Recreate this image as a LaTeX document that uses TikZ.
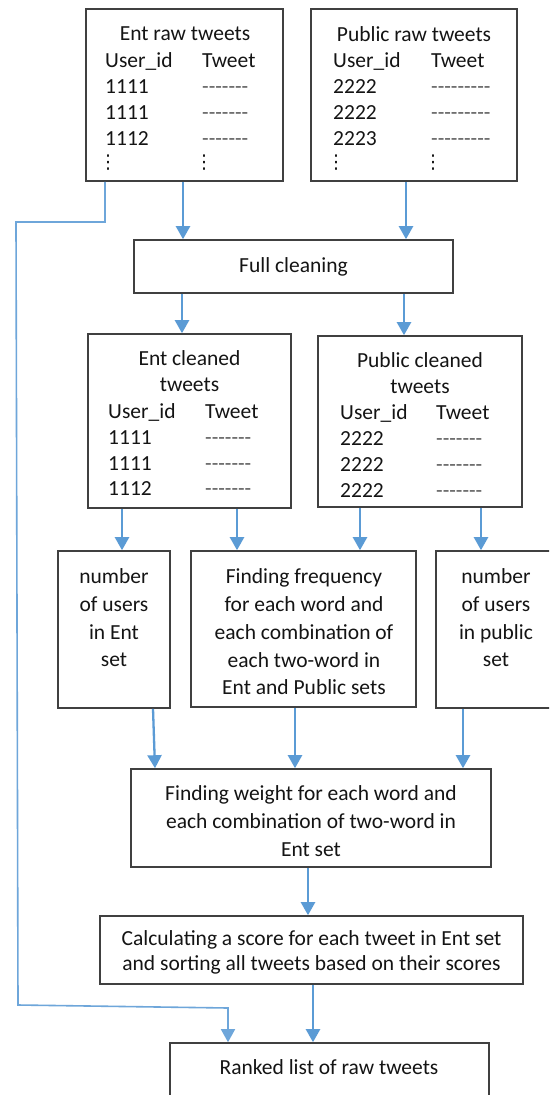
\documentclass[tikz,border=0pt]{standalone}
\usepackage{fontspec}
\setmainfont{Carlito}
\newfontfamily\dejavu{DejaVu Sans}
\usetikzlibrary{arrows.meta}
\definecolor{arrblue}{HTML}{5B9BD5}
\definecolor{loopblue}{HTML}{6EA6DA}
\definecolor{boxgray}{HTML}{404040}
\newcommand{\dsh}[1]{\foreach \i in {1,...,#1}{-{}}}
\newcommand{\vd}{{\dejavu\fontsize{19}{19}\selectfont ⋮}}
\begin{document}
\begin{tikzpicture}[x=1pt,y=1pt,
  box/.style={draw=boxgray, line width=1.6pt, inner sep=0pt, fill=white},
  txt/.style={inner sep=0pt, font=\fontsize{21.5}{26}\selectfont, text=black!92},
  mtxt/.style={inner sep=0pt, align=center, font=\fontsize{21.5}{27.7}\selectfont, text=black!92},
  dashtxt/.style={inner sep=0pt, font=\fontsize{21.5}{26}\selectfont, text=black!65},
  arr/.style={draw=arrblue, line width=2.3pt, -{Triangle[width=14pt,length=13pt]}},
  loopline/.style={draw=loopblue, line width=1.6pt, -{Triangle[width=14pt,length=13pt]}}
]
\useasboundingbox (0,0) rectangle (549,-1095);
\clip (0,0) rectangle (549,-1095);
\fill[white] (0,0) rectangle (549,-1095);

% ---------- boxes ----------
\node[box, minimum width=197pt, minimum height=172pt] (entraw) at (184.5,-95) {};
\node[box, minimum width=206pt, minimum height=172pt] (pubraw) at (414,-95) {};
\node[box, minimum width=319pt, minimum height=53pt] (full) at (293.5,-266.5) {};
\node[box, minimum width=203pt, minimum height=174pt] (entclean) at (189.5,-421) {};
\node[box, minimum width=204pt, minimum height=171pt] (pubclean) at (420,-421.5) {};
\node[box, minimum width=112pt, minimum height=157pt] (nument) at (114,-629.5) {};
\node[box, minimum width=225pt, minimum height=156pt] (freq) at (303.5,-629) {};
\node[box, minimum width=120pt, minimum height=157pt] (numpub) at (496,-629.5) {};
\node[box, minimum width=360pt, minimum height=98pt] (weight) at (311,-818) {};
\node[box, minimum width=423pt, minimum height=68pt] (calc) at (311.5,-950) {};
\node[box, minimum width=319pt, minimum height=72pt] (ranked) at (329.5,-1079) {};

% ---------- Ent raw tweets ----------
\node[txt, anchor=base] (erT) at (185,-40) {Ent raw tweets};
\node[txt, anchor=base west] (erU) at (105,-67) {User\_id};
\node[txt, anchor=base west] (erW) at (202,-67) {Tweet};
\node[txt, anchor=base west] (er1) at (105,-93) {1111};
\node[txt, anchor=base west] (er2) at (105,-119) {1111};
\node[txt, anchor=base west] (er3) at (105,-145) {1112};
\node[dashtxt, anchor=base west] (erd1) at (202,-93) {\dsh{7}};
\node[dashtxt, anchor=base west] (erd2) at (202,-119) {\dsh{7}};
\node[dashtxt, anchor=base west] (erd3) at (202,-145) {\dsh{7}};
\node[txt] (erv1) at (108,-163) {\vd};
\node[txt] (erv2) at (204,-163) {\vd};

% ---------- Public raw tweets ----------
\node[txt, anchor=base] (prT) at (414,-41) {Public raw tweets};
\node[txt, anchor=base west] (prU) at (333,-67) {User\_id};
\node[txt, anchor=base west] (prW) at (431,-67) {Tweet};
\node[txt, anchor=base west] (pr1) at (333,-93) {2222};
\node[txt, anchor=base west] (pr2) at (333,-119) {2222};
\node[txt, anchor=base west] (pr3) at (333,-145) {2223};
\node[dashtxt, anchor=base west] (prd1) at (431,-93) {\dsh{9}};
\node[dashtxt, anchor=base west] (prd2) at (431,-119) {\dsh{9}};
\node[dashtxt, anchor=base west] (prd3) at (431,-145) {\dsh{9}};
\node[txt] (prv1) at (336,-163) {\vd};
\node[txt] (prv2) at (433,-163) {\vd};

% ---------- Full cleaning ----------
\node[txt] (fullT) at (293.5,-266.5) {Full cleaning};

% ---------- Ent cleaned tweets ----------
\node[txt, anchor=base] (ecT1) at (189.5,-365) {Ent cleaned};
\node[txt, anchor=base] (ecT2) at (189.5,-391) {tweets};
\node[txt, anchor=base west] (ecU) at (108,-418) {User\_id};
\node[txt, anchor=base west] (ecW) at (205,-418) {Tweet};
\node[txt, anchor=base west] (ec1) at (108,-444) {1111};
\node[txt, anchor=base west] (ec2) at (108,-470) {1111};
\node[txt, anchor=base west] (ec3) at (108,-495) {1112};
\node[dashtxt, anchor=base west] (ecd1) at (205,-444) {\dsh{7}};
\node[dashtxt, anchor=base west] (ecd2) at (205,-470) {\dsh{7}};
\node[dashtxt, anchor=base west] (ecd3) at (205,-495) {\dsh{7}};

% ---------- Public cleaned tweets ----------
\node[txt, anchor=base] (pcT1) at (420,-367) {Public cleaned};
\node[txt, anchor=base] (pcT2) at (420,-393) {tweets};
\node[txt, anchor=base west] (pcU) at (340,-419) {User\_id};
\node[txt, anchor=base west] (pcW) at (436,-419) {Tweet};
\node[txt, anchor=base west] (pc1) at (340,-445) {2222};
\node[txt, anchor=base west] (pc2) at (340,-471) {2222};
\node[txt, anchor=base west] (pc3) at (340,-497) {2222};
\node[dashtxt, anchor=base west] (pcd1) at (436,-445) {\dsh{7}};
\node[dashtxt, anchor=base west] (pcd2) at (436,-471) {\dsh{7}};
\node[dashtxt, anchor=base west] (pcd3) at (436,-497) {\dsh{7}};

% ---------- third row ----------
\node[mtxt] (numentT) at (114,-618) {number\\of users\\in Ent\\set};
\node[mtxt] (freqT) at (304,-632) {Finding frequency\\for each word and\\each combination of\\each two-word in\\Ent and Public sets};
\node[mtxt] (numpubT) at (496,-618) {number\\of users\\in public\\set};

% ---------- lower boxes ----------
\node[mtxt] (weightT) at (311,-821) {Finding weight for each word and\\each combination of two-word in\\Ent set};
\node[mtxt, font=\fontsize{21.5}{25}\selectfont] (calcT) at (311.5,-952.5) {Calculating a score for each tweet in Ent set\\and sorting all tweets based on their scores};
\node[txt] (rankedT) at (329,-1067) {Ranked list of raw tweets};

% ---------- connector x positions ----------
\coordinate (xa) at (183,0);
\coordinate (xb) at (406,0);
\coordinate (xc) at (182,0);
\coordinate (xd) at (404,0);
\coordinate (xe) at (122,0);
\coordinate (xf) at (237,0);
\coordinate (xg) at (360,0);
\coordinate (xh) at (481,0);
\coordinate (xi) at (295,0);
\coordinate (xj) at (463,0);
\coordinate (xk) at (308,0);
\coordinate (xl) at (313,0);
\coordinate (xm) at (228,0);

% ---------- arrows ----------
\draw[arr] (entraw.south -| xa) -- (full.north -| xa);
\draw[arr] (pubraw.south -| xb) -- (full.north -| xb);
\draw[arr] (full.south -| xc) -- (entclean.north -| xc);
\draw[arr] (full.south -| xd) -- (pubclean.north -| xd);
\draw[arr] (entclean.south -| xe) -- (nument.north -| xe);
\draw[arr] (entclean.south -| xf) -- (freq.north -| xf);
\draw[arr] (pubclean.south -| xg) -- (freq.north -| xg);
\draw[arr] (pubclean.south -| xh) -- (numpub.north -| xh);
\coordinate (ns1) at (153,0);
\coordinate (ns2) at (155,0);
\draw[arr] (nument.south -| ns1) -- (weight.north -| ns2);
\draw[arr] (freq.south -| xi) -- (weight.north -| xi);
\draw[arr] (numpub.south -| xj) -- (weight.north -| xj);
\draw[arr] (weight.south -| xk) -- (calc.north -| xk);
\draw[arr] (calc.south -| xl) -- (ranked.north -| xl);

% ---------- loop connector ----------
\coordinate (l0) at (105,0);
\coordinate (l1) at (105,-222);
\coordinate (l2) at (16,-222);
\coordinate (l3) at (18,-1005);
\coordinate (l4) at (228,-1008);
\draw[loopline] (entraw.south -| l0) -- (l1) -- (l2) -- (l3) -- (l4) -- (ranked.north -| xm);
\end{tikzpicture}
\end{document}
